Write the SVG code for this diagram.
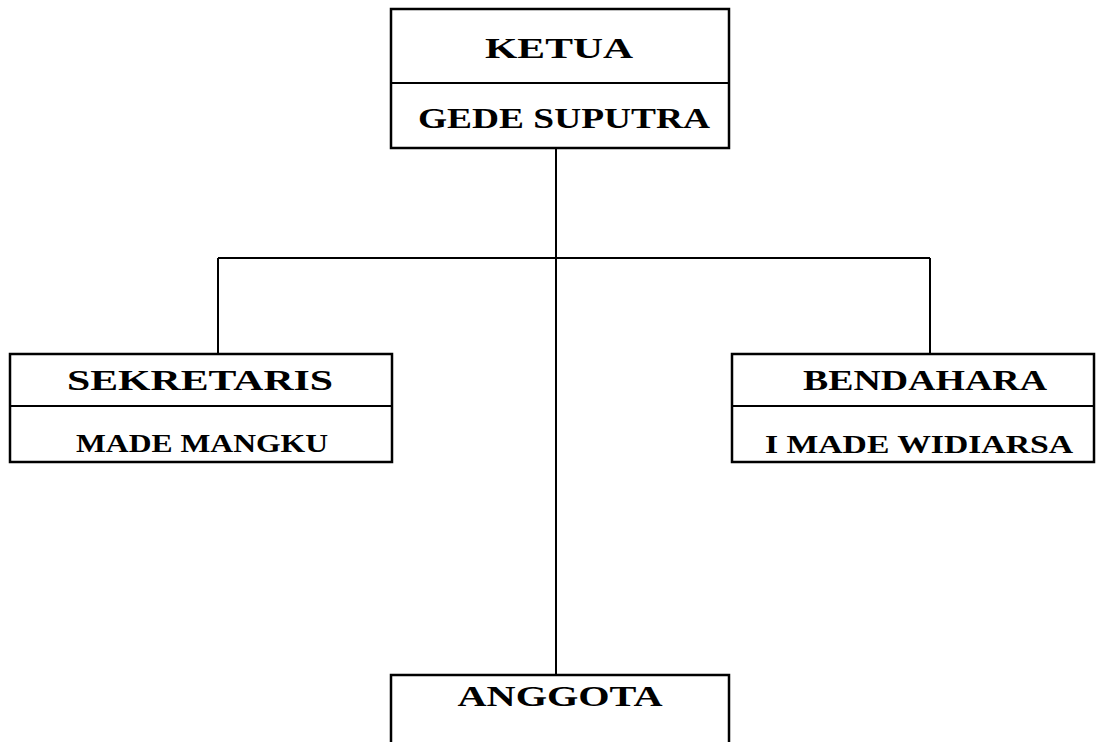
<svg xmlns="http://www.w3.org/2000/svg" width="1100" height="742" viewBox="0 0 1100 742">
<style>
.box{fill:#fff;stroke:#000;stroke-width:2.5}
.ln{fill:none;stroke:#000;stroke-width:2}
.t{font-family:"Liberation Serif","Times New Roman",serif;font-weight:bold;fill:#000;text-anchor:middle}
.big{font-size:30px}
.sm{font-size:26px}
</style>
<rect width="1100" height="742" fill="#fff"/>
<g id="connectors">
<path class="ln" d="M556 148V675"/>
<path class="ln" d="M218 258H930"/>
<path class="ln" d="M218 258V354"/>
<path class="ln" d="M930 258V354"/>
</g>
<g id="ketua">
<rect class="box" x="391" y="9" width="338" height="139"/>
<line class="ln" x1="391" y1="83" x2="729" y2="83"/>
<text class="t big" x="559" y="58" textLength="148" lengthAdjust="spacingAndGlyphs">KETUA</text>
<text class="t big" x="564" y="128" textLength="292" lengthAdjust="spacingAndGlyphs">GEDE SUPUTRA</text>
</g>
<g id="sekretaris">
<rect class="box" x="10" y="354" width="382" height="108"/>
<line class="ln" x1="10" y1="406" x2="392" y2="406"/>
<text class="t big" x="200" y="390" textLength="266" lengthAdjust="spacingAndGlyphs">SEKRETARIS</text>
<text class="t sm" x="202" y="452" textLength="252" lengthAdjust="spacingAndGlyphs">MADE MANGKU</text>
</g>
<g id="bendahara">
<rect class="box" x="732" y="354" width="362" height="108"/>
<line class="ln" x1="732" y1="406" x2="1094" y2="406"/>
<text class="t big" x="925" y="390" textLength="244" lengthAdjust="spacingAndGlyphs">BENDAHARA</text>
<text class="t sm" x="919" y="453" textLength="308" lengthAdjust="spacingAndGlyphs">I MADE WIDIARSA</text>
</g>
<g id="anggota">
<rect class="box" x="391" y="675" width="338" height="90"/>
<text class="t big" x="560" y="706" textLength="205" lengthAdjust="spacingAndGlyphs">ANGGOTA</text>
</g>
</svg>
